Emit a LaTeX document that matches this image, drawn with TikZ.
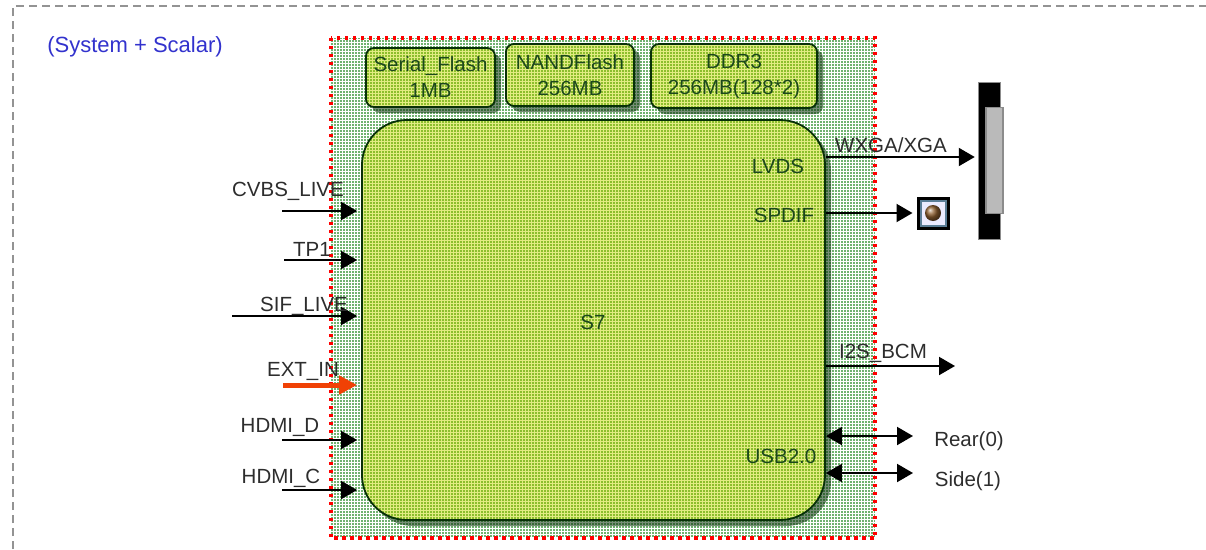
\documentclass[tikz,border=0pt]{standalone}
\usepackage{fontspec}
\setmainfont{Liberation Sans}
\usetikzlibrary{shadows, arrows.meta, patterns}
\definecolor{boardgreen}{RGB}{112, 178, 112}
\definecolor{chipgreen}{RGB}{140, 190, 44}
\definecolor{chipgrid}{RGB}{226, 236, 130}
\definecolor{chiptext}{RGB}{28, 72, 28}
\definecolor{chipline}{RGB}{8, 48, 8}
\definecolor{labelgray}{RGB}{45, 45, 45}
\definecolor{titleblue}{RGB}{50, 50, 205}
\definecolor{extred}{RGB}{240, 65, 5}
\definecolor{jackblue}{RGB}{90, 125, 150}
\tikzset{
    lbl/.style={font=\fontsize{20.5}{26}\selectfont, text=labelgray, inner sep=0pt},
    chiplbl/.style={lbl, text=chiptext, align=center},
    memchip/.style={draw=chipline, line width=1.8pt, rounded corners=8pt, chiplbl,
        drop shadow={shadow xshift=6pt, shadow yshift=-6pt, fill=chipline, opacity=.55},
        preaction={fill=chipgreen}, pattern=grid, pattern color=chipgrid},
    sig/.style={line width=2pt, -{Triangle[length=16pt,width=18pt]}},
    sigboth/.style={line width=2pt, {Triangle[length=16pt,width=18pt]}-{Triangle[length=16pt,width=18pt]}}
}
\begin{document}
\begin{tikzpicture}[x=1pt, y=-1pt]
    \useasboundingbox (0,0) rectangle (1206,549);
    \draw[gray!85, line width=1.5pt, dash pattern=on 8pt off 5pt] (13,549) -- (13,6) -- (1206,6);
    \node[lbl, text=titleblue, font=\fontsize{22}{26}\selectfont] (title) at (135,47) {(System + Scalar)};

    % board with memories and the S7
    \node[minimum width=544pt, minimum height=500pt, inner sep=0pt, preaction={fill=boardgreen}, pattern=grid, pattern color=white] (board) at (603,288) {};
    \draw[red, line width=3.5pt, dash pattern=on 3.5pt off 4.5pt] (board.north west) rectangle (board.south east);

    \node[memchip, minimum width=129pt, minimum height=59pt] (flash) at (430.5,77.5) {Serial\_Flash\\1MB};
    \node[memchip, minimum width=128pt, minimum height=62pt] (nand) at (570,75) {NANDFlash\\256MB};
    \node[memchip, minimum width=166pt, minimum height=64pt] (ddr) at (734,76) {DDR3\\256MB(128*2)};
    \node[memchip, rounded corners=45pt, minimum width=463pt, minimum height=400pt] (chip) at (593.5,320) {};

    % labels inside the chip
    \node[chiplbl] (lvds) at (778,166) {LVDS};
    \node[chiplbl] (spdif) at (784,215) {SPDIF};
    \node[chiplbl] (usb) at (781,456) {USB2.0};
    \node[chiplbl] (chipname) at (593,322) {S7};

    % panel and jack
    \node[draw=black!45, line width=1.5pt, fill=black, minimum width=22pt, minimum height=157pt, inner sep=0pt] (panel) at (989.5,161) {};
    \node[draw=black!45, line width=1.5pt, fill=black!27, minimum width=17pt, minimum height=106pt, inner sep=0pt] (panelslot) at (994.5,160.5) {};
    \node[draw=black, line width=3pt, fill=jackblue, minimum size=30pt, inner sep=0pt] (jack) at (933,213) {};
    \node[fill=blue!8, minimum size=23pt, inner sep=0pt] (jackface) at (jack) {};
    \node[circle, ball color=brown!75!black, minimum size=16pt, inner sep=0pt] (jackball) at (jack) {};

    % inputs
    \foreach \name/\px/\py/\txt/\tx/\ty in {cvbs/282/211/CVBS\_LIVE/288/191, tp/284/260/TP1/312/249, sif/232/316/SIF\_LIVE/304/306, hdmid/282/440/HDMI\_D/280/427, hdmic/282/490/HDMI\_C/281/478} {
        \coordinate (\name in) at (\px,\py);
        \draw[sig, shorten >=4pt] (\name in) -- (\name in -| chip.west);
        \node[lbl] (\name) at (\tx,\ty) {\txt};
    }
    \coordinate (ext in) at (283,385);
    \draw[extred, line width=5pt, -{Triangle[length=18pt,width=18pt]}, shorten >=4pt] (ext in) -- (ext in -| chip.west);
    \node[lbl] (ext) at (303,371) {EXT\_IN};

    % outputs
    \coordinate (wxga out) at (0,157);
    \coordinate (i2s out) at (955,366);
    \coordinate (rear out) at (913,436);
    \coordinate (side out) at (913,473);
    \draw[sig, shorten >=3pt] (wxga out -| chip.east) -- (wxga out -| panel.west);
    \draw[sig, shorten >=4pt] (chip.east |- jack) -- (jack.west);
    \draw[sig] (chip.east |- i2s out) -- (i2s out);
    \draw[sigboth] (chip.east |- rear out) -- (rear out);
    \draw[sigboth] (chip.east |- side out) -- (side out);

    \node[lbl] (wxga) at (891,145) {WXGA/XGA};
    \node[lbl] (i2s) at (883,353) {I2S\_BCM};
    \node[lbl] (rear) at (969,441) {Rear(0)};
    \node[lbl] (side) at (968,481) {Side(1)};
\end{tikzpicture}
\end{document}
